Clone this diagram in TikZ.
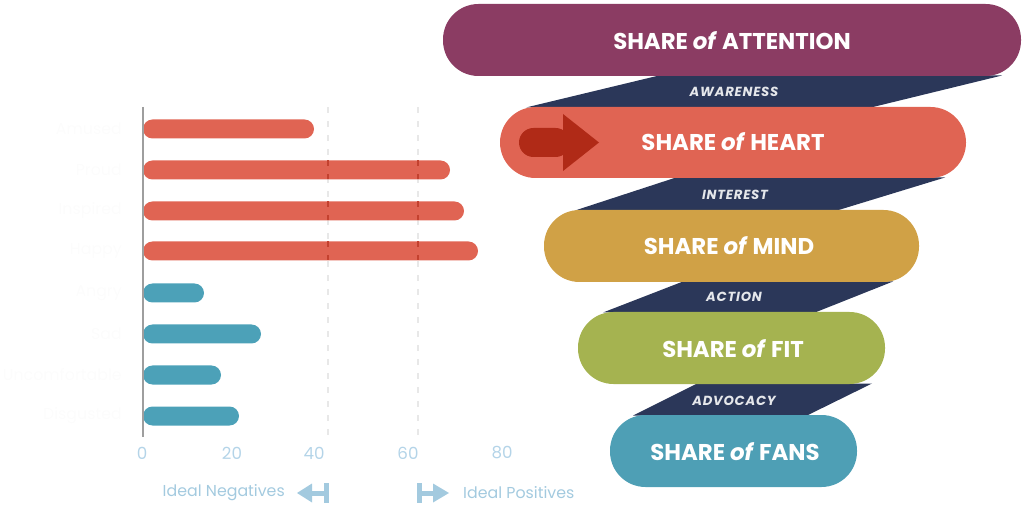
\documentclass[tikz,border=0pt]{standalone}
\usepackage{fontspec}
\setmainfont{Poppins}

\definecolor{plum}{HTML}{8B3C63}
\definecolor{heartred}{HTML}{E06453}
\definecolor{mindgold}{HTML}{D0A146}
\definecolor{fitgreen}{HTML}{A5B350}
\definecolor{fansblue}{HTML}{4E9FB5}
\definecolor{navy}{HTML}{2B3759}
\definecolor{arrowred}{HTML}{B02A17}
\definecolor{barred}{HTML}{E06453}
\definecolor{barblue}{HTML}{4CA1B8}
\definecolor{ticktxt}{HTML}{B4D4E8}
\definecolor{idealblue}{HTML}{A3CADF}
\definecolor{axisgray}{HTML}{9E9E9E}

\begin{document}
\begin{tikzpicture}[x=0.02cm,y=-0.02cm,
   pill/.style={rounded corners=0.71cm},
   pilltext/.style={text=white,font=\fontsize{13}{14}\selectfont\bfseries},
   bandtext/.style={text=white!88!navy,
     font=\fontsize{7.5}{8}\selectfont\bfseries\itshape\addfontfeatures{LetterSpace=6}},
   bar/.style={rounded corners=0.19cm},
   dashline/.style={line width=1.5pt,dash pattern=on 0.12cm off 0.16cm},
   tick/.style={text=ticktxt,font=\fontsize{9.5}{10}\selectfont},
   ideal/.style={text=idealblue,font=\fontsize{9}{10}\selectfont},
   emotion/.style={anchor=east,text=white!99!black,font=\fontsize{9}{10}\selectfont}]
   \useasboundingbox (0,0) rectangle (1024,506);

   % bar chart
   \foreach \t in {328,418} {
    \draw[dashline,black!9] (\t,107) -- (\t,437);
   }
   \foreach \y/\e/\c/\w [count=\i] in {129/314/barred/Amused, 170/450/barred/Proud,
       211/464/barred/Inspired, 251/478/barred/Happy, 293/204/barblue/Angry,
       334/261/barblue/Sad, 375/221/barblue/Uncomfortable, 416/239/barblue/Disgusted} {
    \fill[\c,bar] (143,{\y-9.5}) rectangle (\e,{\y+9.5});
    \node[emotion] (emo\i) at (128,\y) {\w};
   }
   \foreach \y in {170,211,251} {
    \foreach \t in {328,418} {
     \draw[dashline,arrowred!60!barred] (\t,{\y-9.5}) -- (\t,{\y+9.5});
    }
   }
   \draw[axisgray,line width=1.1pt] (143,107) -- (143,437);
   \foreach \v/\t in {0/142,20/232,40/314,60/408,80/502} {
    \node[tick] (tick\v) at (\t,453) {\v};
   }

   % ideal markers
   \node[ideal,anchor=east] (neg) at (291,493) {Ideal Negatives};
   \fill[idealblue] (297,493) -- (312,483.5) -- (312,502.5) -- cycle;
   \fill[idealblue] (311,490.5) rectangle (325,496);
   \fill[idealblue] (324,483) rectangle (329,503);
   \node[ideal,anchor=west] (pos) at (457,493) {Ideal Positives};
   \fill[idealblue] (417,483) rectangle (422,503);
   \fill[idealblue] (421,490.5) rectangle (434,496);
   \fill[idealblue] (449,493) -- (433,483.5) -- (433,502.5) -- cycle;

   % funnel bands
   \fill[navy] (659,75.5) -- (1002,75.5) -- (871,107.5) -- (526,107.5) -- cycle;
   \fill[navy] (676,177.5) -- (945,177.5) -- (837,210.5) -- (575,210.5) -- cycle;
   \fill[navy] (683,281.5) -- (893,281.5) -- (815,312.5) -- (603,312.5) -- cycle;
   \fill[navy] (697,383.5) -- (872,383.5) -- (807,415.5) -- (633,415.5) -- cycle;

   % funnel pills
   \fill[plum,pill]     (443,4)   rectangle (1021,76);
   \fill[heartred,pill] (500,107) rectangle (966,178);
   \fill[mindgold,pill] (544,210) rectangle (919,282);
   \fill[fitgreen,pill] (578,312) rectangle (885,384);
   \fill[fansblue,pill] (610,415) rectangle (857,487);

   % arrow on heart
   \fill[arrowred,rounded corners=0.29cm] (519,128) rectangle (570,157);
   \fill[arrowred] (599,142.5) -- (563,114) -- (563,171) -- cycle;

   \node[pilltext] (attention) at (732,41)  {SHARE \textit{of} ATTENTION};
   \node[pilltext] (heart)     at (733,142) {SHARE \textit{of} HEART};
   \node[pilltext] (mind)      at (729,246) {SHARE \textit{of} MIND};
   \node[pilltext] (fit)       at (733,349) {SHARE \textit{of} FIT};
   \node[pilltext] (fans)      at (735,452) {SHARE \textit{of} FANS};

   \node[bandtext] (awareness) at (734,92)  {AWARENESS};
   \node[bandtext] (interest)  at (735,195) {INTEREST};
   \node[bandtext] (action)    at (734,297) {ACTION};
   \node[bandtext] (advocacy)  at (734,401) {ADVOCACY};
\end{tikzpicture}
\end{document}
